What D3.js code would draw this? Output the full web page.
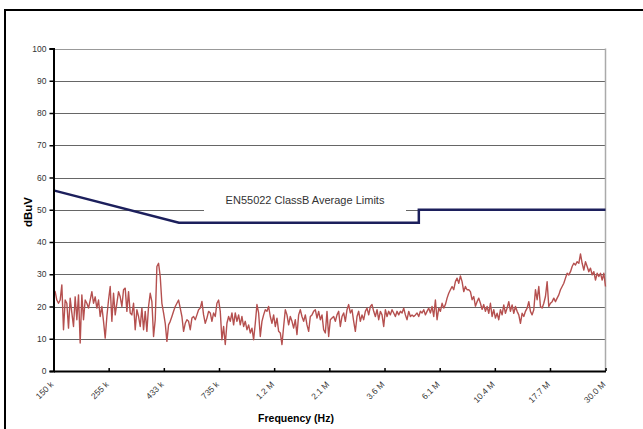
<!DOCTYPE html>
<html>
<head>
  <meta charset="UTF-8" />
  <title>EN55022 Conducted Emissions</title>
  <style>
    body { margin: 0; background: #fff; }
    svg { display: block; font-family: Arial, 'Liberation Sans', sans-serif; }
  </style>
</head>
<body>
  <svg id="chart" width="643" height="429"></svg>

  <script src="https://d3js.org/d3.v7.min.js"></script>
  <script>
    // sweep settings of the analyzer (log spaced points)
    const sweepStart = 150e3, sweepStop = 30e6;

    // measured level, dBuV, one value per sweep point
    const measured = [
      25.2,24.6,22,21,22,26.7,12.8,22,21,13.3, 22.6,18,13.8,23,15.9,23.6,8.7,23.6,15.9,22,
      21,19.5,22,24.6,21,23,19.5,22,16.9,20, 15.4,10.2,16.9,22,26.2,15.4,24.1,17.4,21,24.6,
      23,20,25.2,25.7,18.5,24.6,18,17.4,21,12.8, 19,16.9,13.8,19.5,12.8,18.5,12.3,20,24.1,21.5,
      10.7,15.9,32.4,33.4,29.3,21,18,14.8,9.2,14.3, 15.4,16.9,18.5,20,21,22,19.5,16.9,12.3,14.8,
      15.9,
      15.4,12.8,16.4,16.9,15.9,17.4,19,19.5,21.6,17.4, 14.8,16.4,18.5,18,15.4,18,16.9,21,22,18.5,
      9.7,13.8,8.2,14.8,16.9,15.4,18,14.3,18,15.4, 17.4,14.3,16.9,13.8,15.4,12.8,14.3,11.8,13.3,9.7,
      14.8,20.6,18,10.7,15.4,17.4,19,18.5,20,16.9, 14.8,17.4,13.8,16.4,12.3,11.8,8.2,13.8,19,17.4,
      14.3,16.9,15.4,13.3,15.9,11.3,17.4,19,16.9,15.4, 17.4,14.3,12.3,16.9,17.4,18.5,19,16.4,18.5,15.9,
      17.4,12.8,11.8,18.5,
      10.7,15.9,16.4,16.9,15.4,17.4,18.5,13.8,16.9,18, 15.4,19,20.6,18,19,15.4,12.3,16.9,18.5,15.4,
      17.4,15.9,18.5,19.5,17.4,20,20.6,18.5,16.9,19, 15.9,18.5,17.4,13.8,19,16.9,18.5,17.4,19,18,
      16.9,18.5,17.4,18.5,18,19.5,17.4,15.9,18.5,16.9, 17.4,16.9,17.4,18,16.9,18.5,18,19,17.4,18.5,
      19.5,18,20,16.9,22,15.9,19.5,18.5,21,19.5, 20.6,22.6,24.1,25.2,26.2,25.2,27.7,28.8,27.2,29.5,
      27.7,24.6,26.2,25.2,
      25.2,24.6,22.1,23.1,20.1,21.5,22.6,21,19.1,20.6, 18.5,20,17.9,21,16.9,19,16.4,17.9,15.9,19,
      17.4,20.5,17.9,19.5,21.5,18.5,20.5,17.9,20,18.5, 17.4,14.8,17.9,16.9,18.5,19.5,21.5,18.5,17.4,19,
      25.2,22.1,26.2,20,19.5,21,23.1,27.7,20,21, 21.5,22.6,21.5,22.6,23.6,25.2,26.2,27.2,28.8,30.3,
      29.8,30.8,32.4,33.4,32.9,33.9,33.4,36.3,33.4,31.3, 33.9,32.4,30.8,31.9,29.8,30.8,28.2,30.3,29.3,30.3,
      28.2,30.3,26.2
    ];

    // EN55022 class B average limit
    const limitFreq  = [150e3, 500e3, 5e6, 5e6, 30e6];
    const limitLevel = [56, 46, 46, 50, 50];
    const limitLabel = "EN55022 ClassB Average Limits";

    const tickFreqs  = [150e3, 254.7e3, 432.5e3, 734.5e3, 1.247e6, 2.118e6, 3.597e6, 6.108e6, 10.37e6, 17.61e6, 30e6];
    const tickLabels = ["150 k", "255 k", "433 k", "735 k", "1.2 M", "2.1 M", "3.6 M", "6.1 M", "10.4 M", "17.7 M", "30.0 M"];
    const yTicks = [0, 10, 20, 30, 40, 50, 60, 70, 80, 90, 100];

    const svg = d3.select("#chart");
    const plotLeft = 53.5, plotRight = 605.5, plotTop = 48.5, plotBottom = 371;

    const x = d3.scaleLog().domain([sweepStart, sweepStop]).range([plotLeft, plotRight]);
    const y = d3.scaleLinear().domain([0, 100]).range([plotBottom, plotTop]);

    // outer frame
    svg.append("path")
      .attr("d", "M5,440 V10 H650")
      .attr("fill", "none").attr("stroke", "#000").attr("stroke-width", 2);

    // gridlines
    svg.append("g")
      .selectAll("line")
      .data(yTicks.filter(v => v > 0))
      .join("line")
      .attr("x1", plotLeft).attr("x2", plotRight)
      .attr("y1", d => Math.round(y(d)) + 0.5).attr("y2", d => Math.round(y(d)) + 0.5)
      .attr("stroke", d => d === 100 ? "#999" : "#666").attr("stroke-width", 1);

    // plot area right border
    svg.append("line")
      .attr("x1", plotRight).attr("x2", plotRight).attr("y1", plotTop).attr("y2", plotBottom)
      .attr("stroke", "#aaa").attr("stroke-width", 1.5);

    // label box covering the grid
    svg.append("rect")
      .attr("x", 204).attr("y", 188).attr("width", 202).attr("height", 26)
      .attr("fill", "#fff");
    svg.append("text")
      .attr("x", 305).attr("y", 204)
      .attr("text-anchor", "middle")
      .attr("font-size", 11).attr("fill", "#333")
      .text(limitLabel);

    // measured trace
    const n = measured.length;
    const freqAt = i => sweepStart * Math.pow(sweepStop / sweepStart, i / (n - 1));
    svg.append("path")
      .datum(measured)
      .attr("fill", "none")
      .attr("stroke", "#b5504f").attr("stroke-width", 1.4)
      .attr("stroke-linejoin", "round")
      .attr("d", d3.line().x((d, i) => x(freqAt(i))).y(d => y(d)));

    // limit line
    svg.append("path")
      .datum(limitFreq.map((f, i) => [f, limitLevel[i]]))
      .attr("fill", "none")
      .attr("stroke", "#1c1f5c").attr("stroke-width", 2.5)
      .attr("d", d3.line().x(d => x(d[0])).y(d => y(d[1])));

    // y axis
    const yAxis = svg.append("g")
      .attr("transform", `translate(${plotLeft},0)`)
      .call(d3.axisLeft(y).tickValues(yTicks).tickSize(4).tickPadding(3));
    yAxis.select(".domain").attr("stroke", "#000").attr("stroke-width", 2);
    yAxis.selectAll(".tick line").attr("stroke", "#000").attr("stroke-width", 1.5);
    yAxis.selectAll("text").attr("font-size", 8.5).attr("fill", "#333").attr("font-family", null);

    // x axis
    const xAxis = svg.append("g")
      .attr("transform", `translate(0,${plotBottom})`)
      .call(d3.axisBottom(x).tickValues(tickFreqs).tickSize(-3).tickSizeOuter(0)
        .tickFormat((d, i) => tickLabels[i]));
    xAxis.select(".domain").attr("stroke", "#000").attr("stroke-width", 2);
    xAxis.selectAll(".tick line").attr("stroke", "#000").attr("stroke-width", 1.5);
    xAxis.selectAll("text")
      .attr("font-size", 8.5).attr("fill", "#333").attr("font-family", null)
      .attr("text-anchor", "end")
      .attr("dy", null)
      .attr("transform", "translate(0,14) rotate(-45)")
      .attr("y", 0).attr("x", 0);

    // axis titles
    svg.append("text")
      .attr("x", 296).attr("y", 422)
      .attr("text-anchor", "middle")
      .attr("font-size", 10.5).attr("font-weight", "bold")
      .text("Frequency (Hz)");
    svg.append("text")
      .attr("transform", "translate(32,212) rotate(-90)")
      .attr("text-anchor", "middle")
      .attr("font-size", 11.5).attr("font-weight", "bold")
      .text("dBuV");
  </script>
</body>
</html>
